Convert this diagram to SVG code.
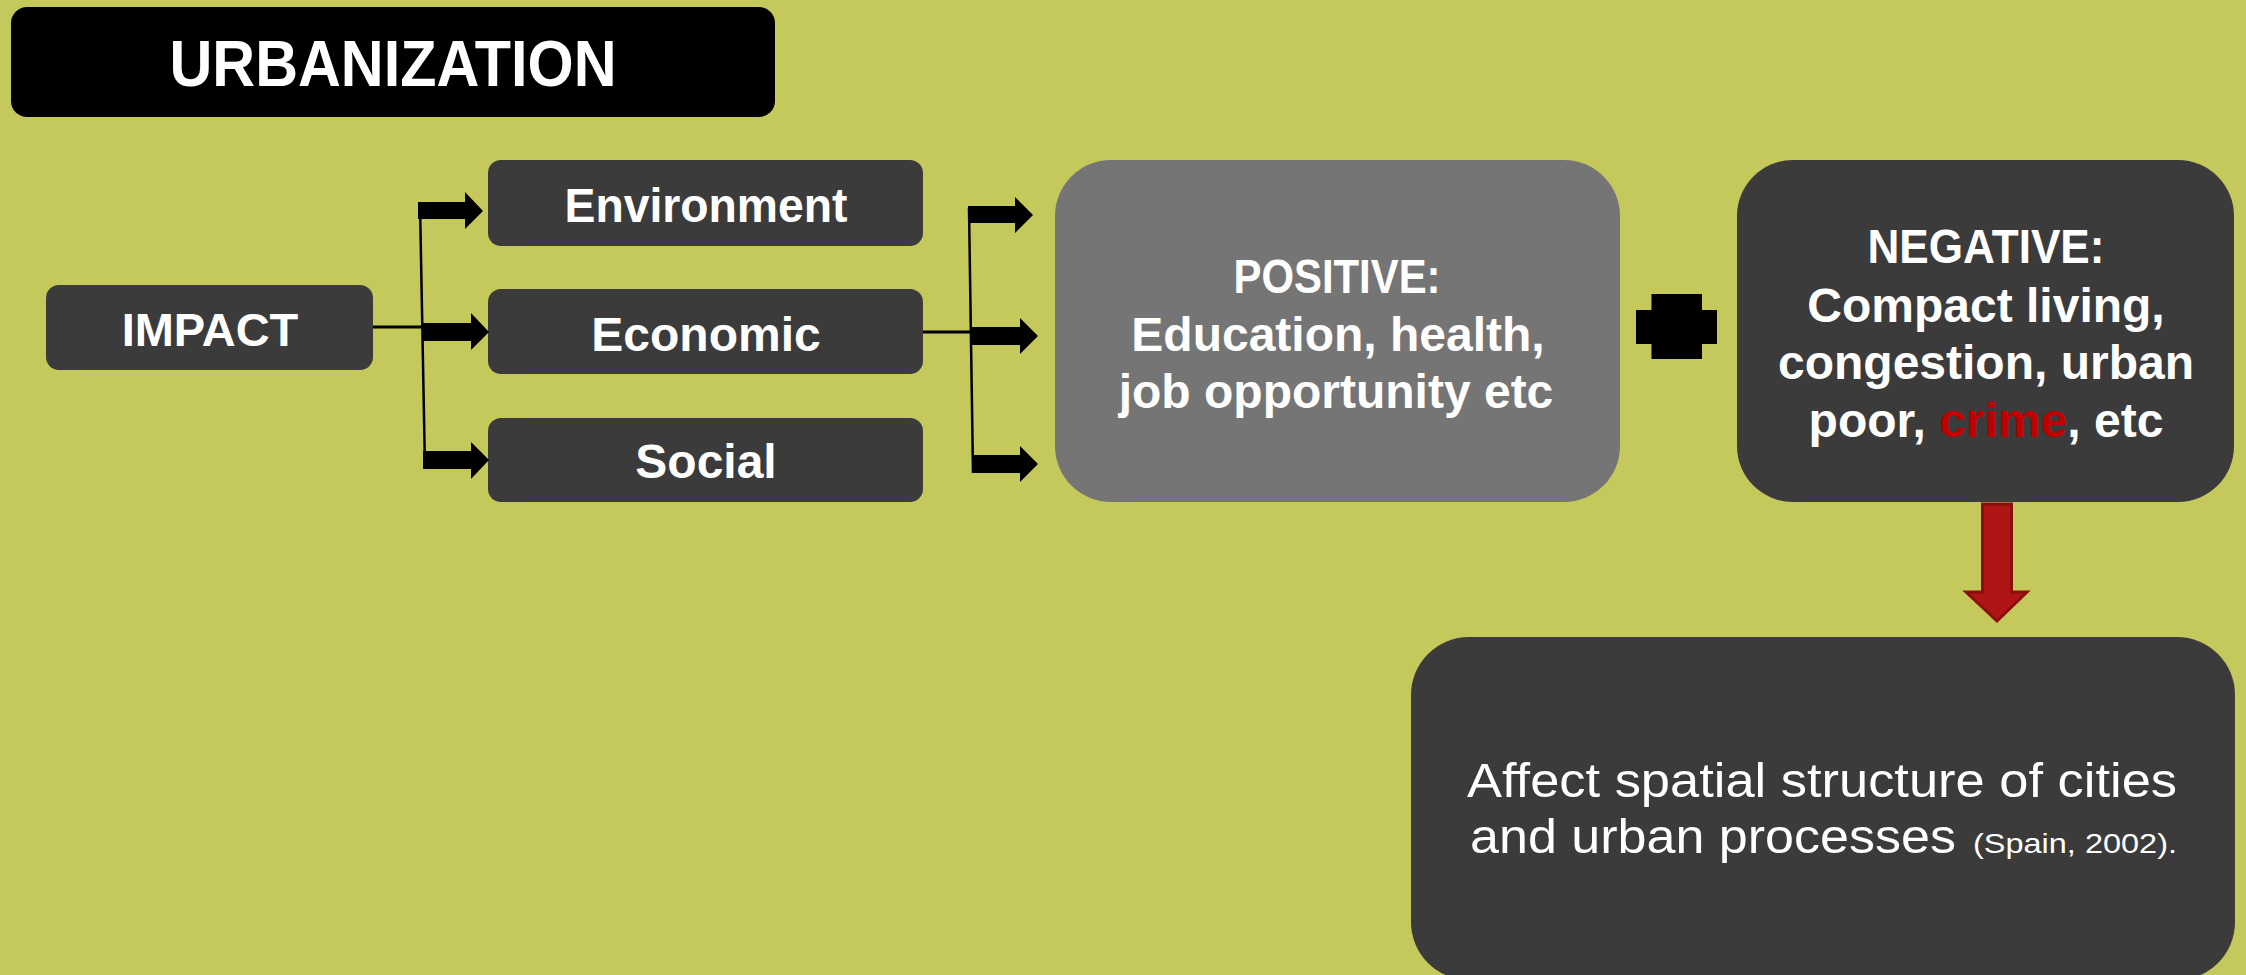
<svg xmlns="http://www.w3.org/2000/svg" width="2246" height="975" viewBox="0 0 2246 975">
  <style>
    .bold { font-family: "Liberation Sans", Arial, sans-serif; font-weight: bold; fill: #ffffff; text-anchor: middle; }
    .light { font-family: "Liberation Sans", Arial, sans-serif; font-weight: normal; fill: #ffffff; }
    .dark { fill: #3b3b3b; }
    .arrow { fill: #000000; }
    .line { stroke: #000000; fill: none; }
  </style>
  <rect x="0" y="0" width="2246" height="975" fill="#c5c85a"/>

  <g id="title">
    <rect x="11" y="7" width="764" height="110" rx="16" ry="16" fill="#000000"/>
    <text class="bold" x="393" y="86" font-size="64" textLength="447" lengthAdjust="spacingAndGlyphs">URBANIZATION</text>
  </g>

  <g id="impact">
    <rect class="dark" x="46" y="285" width="327" height="85" rx="13" ry="13"/>
    <text class="bold" x="210" y="346" font-size="47">IMPACT</text>
  </g>

  <g id="environment">
    <rect class="dark" x="488" y="160" width="435" height="86" rx="13" ry="13"/>
    <text class="bold" x="706" y="222" font-size="48" textLength="283" lengthAdjust="spacingAndGlyphs">Environment</text>
  </g>
  <g id="economic">
    <rect class="dark" x="488" y="289" width="435" height="85" rx="13" ry="13"/>
    <text class="bold" x="706" y="351" font-size="48">Economic</text>
  </g>
  <g id="social">
    <rect class="dark" x="488" y="418" width="435" height="84" rx="13" ry="13"/>
    <text class="bold" x="706" y="478" font-size="48">Social</text>
  </g>

  <g id="positive">
    <rect x="1055" y="160" width="565" height="342" rx="56" ry="56" fill="#757575"/>
    <text class="bold" x="1337" y="293" font-size="48" textLength="207" lengthAdjust="spacingAndGlyphs">POSITIVE:</text>
    <text class="bold" x="1338" y="351" font-size="48">Education, health,</text>
    <text class="bold" x="1336" y="408" font-size="48">job opportunity etc</text>
  </g>

  <g id="plus">
    <path d="M1651.5,294 H1702 V310 H1717 V344 H1702 V359 H1651.5 V344 H1636 V310 H1651.5 Z" fill="#000000"/>
  </g>

  <g id="negative">
    <rect class="dark" x="1737" y="160" width="497" height="342" rx="56" ry="56"/>
    <text class="bold" x="1986" y="263" font-size="48" textLength="237" lengthAdjust="spacingAndGlyphs">NEGATIVE:</text>
    <text class="bold" x="1986" y="322" font-size="48">Compact living,</text>
    <text class="bold" x="1986" y="379" font-size="48">congestion, urban</text>
    <text class="bold" x="1986" y="437" font-size="48">poor, <tspan fill="#c00000">crime</tspan>, etc</text>
  </g>

  <g id="effect">
    <rect class="dark" x="1411" y="637" width="824" height="343" rx="58" ry="58"/>
    <text class="light" x="1467" y="797" font-size="48" textLength="710" lengthAdjust="spacingAndGlyphs">Affect spatial structure of cities</text>
    <text class="light" x="1470" y="853" font-size="48" textLength="486" lengthAdjust="spacingAndGlyphs">and urban processes</text>
    <text class="light" x="1973" y="853" font-size="28" textLength="204" lengthAdjust="spacingAndGlyphs">(Spain, 2002).</text>
  </g>

  <g id="connectors">
    <line class="line" x1="373" y1="327" x2="421" y2="327" stroke-width="3"/>
    <line class="line" x1="420" y1="204" x2="425" y2="469" stroke-width="2.5"/>
    <polygon class="arrow" points="418,202 465,202 465,192 483,211 465,229 465,219 418,219"/>
    <polygon class="arrow" points="423,323 471,323 471,313 489,332 471,350 471,341 423,341"/>
    <polygon class="arrow" points="423,451 471,451 471,442 489,460 471,479 471,469 423,469"/>

    <line class="line" x1="923" y1="332" x2="971" y2="332" stroke-width="3"/>
    <line class="line" x1="969" y1="208" x2="973" y2="473" stroke-width="2.5"/>
    <polygon class="arrow" points="968,206 1015,206 1015,197 1033,215 1015,233 1015,223 968,223"/>
    <polygon class="arrow" points="972,327 1020,327 1020,318 1038,336 1020,354 1020,345 972,345"/>
    <polygon class="arrow" points="973,455 1020,455 1020,446 1038,464 1020,482 1020,473 973,473"/>

    <polygon points="1982.5,504 2011.5,504 2011.5,592 2027,592 1997,621 1966,592 1982.5,592" fill="#b01515" stroke="#8b0e0e" stroke-width="3" stroke-linejoin="miter"/>
  </g>
</svg>
